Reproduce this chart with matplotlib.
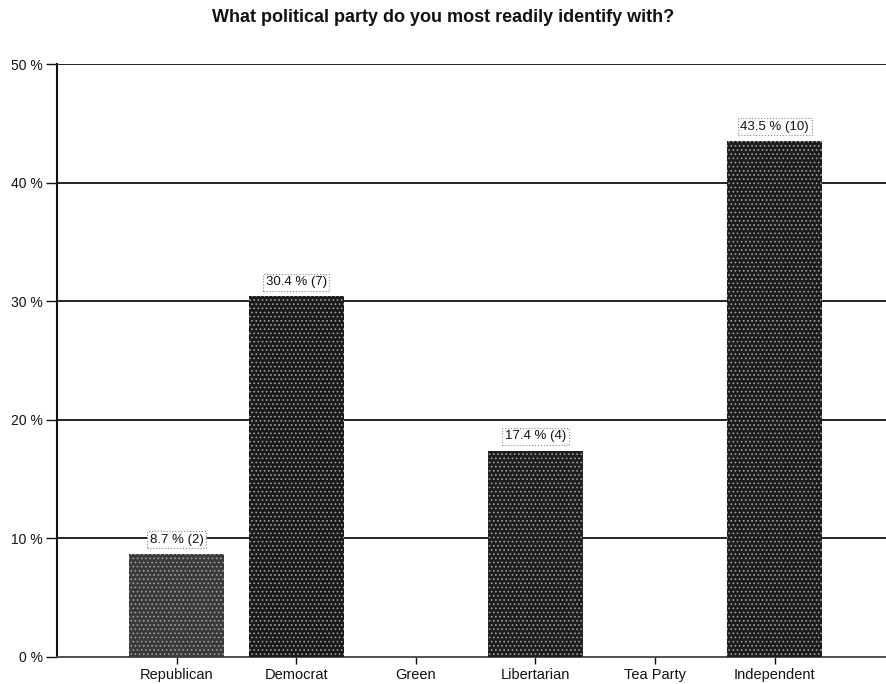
import matplotlib
matplotlib.use("Agg")
import matplotlib.pyplot as plt

# Survey results: share of respondents and counts per party
parties = ["Republican", "Democrat", "Green", "Libertarian", "Tea Party", "Independent"]
percents = [8.7, 30.4, 0.0, 17.4, 0.0, 43.5]
counts = [2, 7, 0, 4, 0, 10]
bar_colors = ["#3a3a3a", "#1a1a1a", "#1a1a1a", "#1e1e1e", "#1a1a1a", "#1c1c1c"]
y_ticks = [0, 10, 20, 30, 40, 50]

plt.rcParams["font.family"] = ["Liberation Sans", "DejaVu Sans"]
plt.rcParams["hatch.linewidth"] = 0.7

W, H = 886, 684
fig = plt.figure(figsize=(W / 100, H / 100), dpi=100)
ax = fig.add_axes([57 / W, (H - 657) / H, (W - 57) / W, (657 - 64) / H])

x = list(range(len(parties)))
for xi, p, c, col in zip(x, percents, counts, bar_colors):
    if p <= 0:
        continue
    ax.bar(xi, p, width=0.79, color=col, edgecolor="#a0a0a0", hatch="....",
           linewidth=0, zorder=3)
    ax.text(xi, p + 1.2, f"{p:.1f} % ({c})", ha="center", va="center",
            fontsize=9.5, color="#111111", zorder=4,
            bbox=dict(boxstyle="square,pad=0.2", facecolor="white",
                      edgecolor="#888888", linestyle=":", linewidth=0.8))

ax.set_xlim(-1, 5.93)
ax.set_ylim(0, 50)
ax.set_yticks(y_ticks)
ax.set_yticklabels([f"{t} %" for t in y_ticks])
ax.set_xticks(x)
ax.set_xticklabels(parties)

for t in y_ticks[1:]:
    ax.axhline(t, color="#111111", linewidth=1.3, zorder=1)

for side in ["top", "right"]:
    ax.spines[side].set_visible(False)
ax.spines["left"].set_linewidth(1.5)
ax.spines["left"].set_color("#111111")
ax.spines["bottom"].set_linewidth(1.3)
ax.spines["bottom"].set_color("#444444")

ax.tick_params(axis="y", length=8, width=1, pad=2, labelsize=10, colors="#111111")
ax.tick_params(axis="x", length=5, width=1, pad=3, labelsize=10.5, colors="#111111")

fig.text(0.5, 1 - 17 / H, "What political party do you most readily identify with?",
         ha="center", va="center", fontsize=13, fontweight="bold", color="#111111")

fig.savefig("out.png", dpi=100, facecolor="white")
